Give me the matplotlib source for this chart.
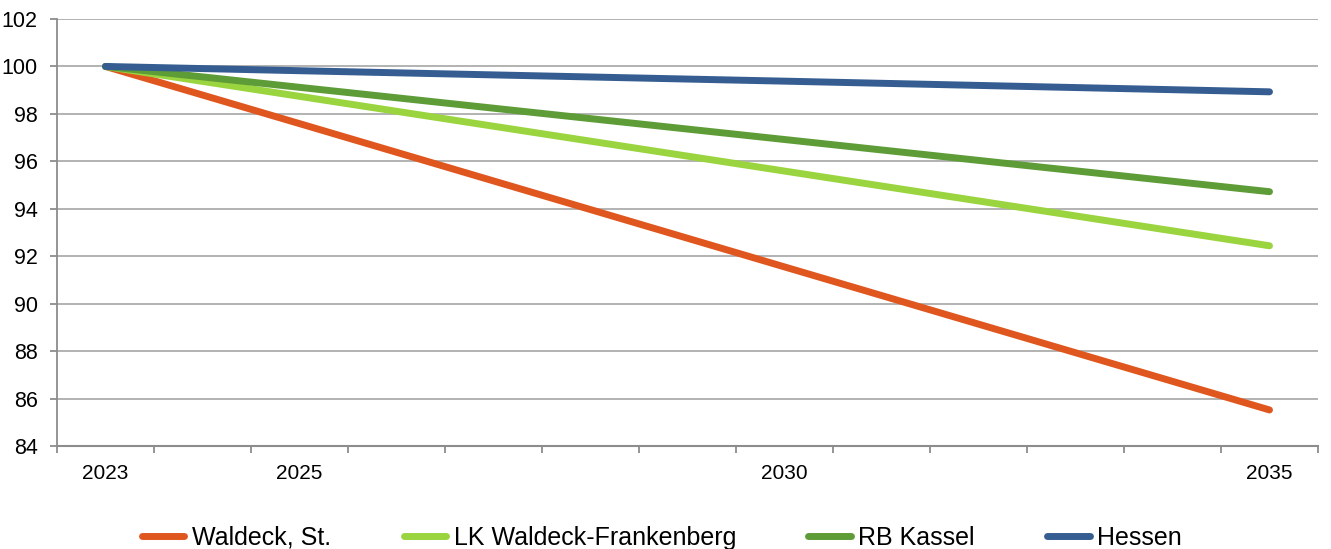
import matplotlib
matplotlib.use("Agg")
import matplotlib.pyplot as plt
from matplotlib import font_manager
import numpy as np

# categories on the x axis (one per year), labels only at some of them
years = list(range(2023, 2036))
label_years = [2023, 2025, 2030, 2035]

# index values (2023 = 100) at the labelled years
data_years = [2023, 2025, 2030, 2035]
waldeck = [100.0, 97.59, 91.55, 85.52]
lk_waldeck = [100.0, 98.74, 95.59, 92.44]
rb_kassel = [100.0, 99.12, 96.92, 94.72]
hessen = [100.0, 99.82, 99.38, 98.93]

series = [
    ("Waldeck, St.", waldeck, "#E0561F"),
    ("LK Waldeck-Frankenberg", lk_waldeck, "#9AD43E"),
    ("RB Kassel", rb_kassel, "#5E9C38"),
    ("Hessen", hessen, "#355D91"),
]

names = {f.name for f in font_manager.fontManager.ttflist}
if "Liberation Sans Narrow" in names:
    plt.rcParams["font.family"] = ["Liberation Sans Narrow", "DejaVu Sans"]
else:
    plt.rcParams["font.family"] = ["Liberation Sans", "DejaVu Sans"]

fig = plt.figure(figsize=(13.31, 5.49), dpi=100)
ax = fig.add_axes([57 / 1331, 1 - 446 / 549, (1318 - 57) / 1331, (446 - 19) / 549])

for name, vals, col in series:
    xs = [years.index(y) for y in data_years]
    ax.plot(xs, vals, color=col, lw=5, solid_capstyle="round",
            solid_joinstyle="round", label=name)

ax.set_xlim(-0.5, len(years) - 0.5)
ax.set_ylim(84, 102)
ax.set_yticks(np.arange(84, 103, 2))
ax.grid(axis="y", color="#a6a6a6", lw=1.2)
ax.set_axisbelow(True)

ax.set_xticks([years.index(y) for y in label_years])
ax.set_xticklabels([str(y) for y in label_years], fontsize=15)
ax.set_xticks(np.arange(-0.5, len(years), 1), minor=True)
ax.tick_params(axis="x", which="major", length=0, pad=13)
ax.tick_params(axis="x", which="minor", length=5, width=1.3, color="#8c8c8c",
               direction="out")
ax.tick_params(axis="y", length=5, width=1.3, color="#8c8c8c", pad=9,
               labelsize=15.5)

for s in ["top", "right"]:
    ax.spines[s].set_visible(False)
ax.spines["left"].set_color("#8c8c8c")
ax.spines["left"].set_linewidth(1.3)
ax.spines["bottom"].set_color("#8c8c8c")
ax.spines["bottom"].set_linewidth(1.5)

fig.legend(loc="center", bbox_to_anchor=(662 / 1331, 1 - 538 / 549), ncol=4,
           frameon=False, fontsize=18, handlelength=1.7, handletextpad=0.3,
           columnspacing=2.9, borderaxespad=0)

fig.savefig("out.png", dpi=100)
